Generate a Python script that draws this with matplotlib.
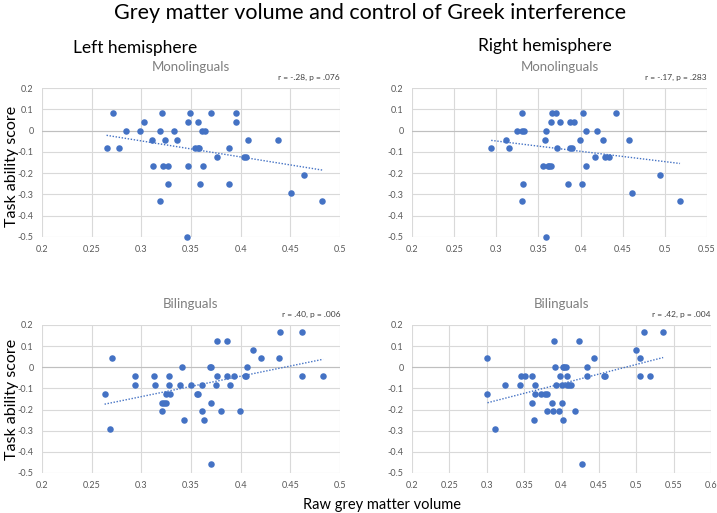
import matplotlib.pyplot as plt
import numpy as np

plt.rcParams['font.family'] = ['Lato', 'DejaVu Sans']

# Left hemisphere, monolinguals
lm_x = [0.265, 0.271, 0.278, 0.285, 0.299, 0.303, 0.311, 0.312, 0.319, 0.319,
        0.321, 0.322, 0.324, 0.327, 0.327, 0.333, 0.336, 0.346, 0.347, 0.347,
        0.349, 0.354, 0.357, 0.357, 0.358, 0.359, 0.361, 0.362, 0.364, 0.370,
        0.376, 0.388, 0.388, 0.395, 0.395, 0.403, 0.405, 0.407, 0.438, 0.451,
        0.464, 0.482]
lm_y = [-0.083, 0.083, -0.083, 0, 0, 0.042, -0.042, -0.167, 0, -0.333,
        0.083, -0.167, -0.042, -0.25, -0.167, 0, -0.042, -0.5, 0.042, -0.167,
        0.083, -0.083, 0.042, -0.083, -0.083, -0.25, 0, -0.167, 0, 0.083,
        -0.125, -0.083, -0.25, 0.083, 0.042, -0.125, -0.125, -0.042, -0.042, -0.292,
        -0.208, -0.333]

# Right hemisphere, monolinguals
rm_x = [0.294, 0.312, 0.315, 0.324, 0.330, 0.331, 0.333, 0.332, 0.331, 0.358,
        0.356, 0.359, 0.359, 0.361, 0.363, 0.365, 0.365, 0.366, 0.371, 0.372,
        0.376, 0.385, 0.387, 0.388, 0.390, 0.392, 0.399, 0.402, 0.403, 0.406,
        0.406, 0.417, 0.420, 0.427, 0.429, 0.434, 0.442, 0.457, 0.461, 0.494,
        0.518]
rm_y = [-0.083, -0.042, -0.083, 0, 0.083, 0, 0, -0.25, -0.333, -0.042,
        -0.167, 0, -0.5, -0.167, -0.167, -0.167, 0.042, 0.083, 0.083, -0.083,
        0.042, -0.25, -0.083, 0.042, -0.083, 0.042, -0.042, -0.25, 0.083, -0.167,
        0, -0.125, 0, -0.042, -0.125, -0.125, 0.083, -0.042, -0.292, -0.208,
        -0.333]

# Left hemisphere, bilinguals
lb_x = [0.263, 0.270, 0.268, 0.294, 0.294, 0.313, 0.314, 0.321, 0.321, 0.323,
        0.325, 0.325, 0.328, 0.328, 0.329, 0.339, 0.341, 0.343, 0.350, 0.356,
        0.357, 0.361, 0.361, 0.363, 0.369, 0.370, 0.370, 0.370, 0.375, 0.376,
        0.376, 0.380, 0.386, 0.386, 0.389, 0.393, 0.399, 0.404, 0.405, 0.406,
        0.412, 0.420, 0.439, 0.440, 0.462, 0.462, 0.483]
lb_y = [-0.125, 0.042, -0.292, -0.042, -0.083, -0.042, -0.083, -0.167, -0.208, -0.167,
        -0.167, -0.125, -0.042, -0.083, -0.125, -0.083, 0, -0.25, -0.083, -0.125,
        -0.125, -0.083, -0.208, -0.25, 0, 0, -0.167, -0.458, -0.083, 0.125,
        -0.042, -0.208, 0.125, -0.042, -0.083, -0.042, -0.208, -0.042, -0.042, 0,
        0.083, 0.042, 0.042, 0.167, 0.167, -0.042, -0.042]

# Right hemisphere, bilinguals
rb_x = [0.301, 0.301, 0.311, 0.324, 0.344, 0.346, 0.351, 0.361, 0.361, 0.364,
        0.364, 0.363, 0.372, 0.378, 0.380, 0.380, 0.387, 0.389, 0.390, 0.391,
        0.392, 0.396, 0.398, 0.400, 0.401, 0.402, 0.402, 0.404, 0.406, 0.407,
        0.408, 0.410, 0.413, 0.418, 0.423, 0.427, 0.434, 0.434, 0.444, 0.457,
        0.458, 0.499, 0.505, 0.505, 0.510, 0.519, 0.536]
rb_y = [0.042, -0.125, -0.292, -0.083, -0.083, -0.042, -0.042, -0.042, -0.167, -0.083,
        -0.125, -0.25, -0.125, -0.125, -0.125, -0.208, -0.167, -0.208, 0.125, 0,
        -0.083, -0.208, -0.042, -0.167, -0.083, 0, -0.25, 0, 0, -0.083,
        -0.042, -0.083, -0.083, -0.208, 0.125, -0.458, 0, -0.042, 0.042, -0.042,
        -0.042, 0.083, 0.042, -0.042, 0.167, -0.042, 0.167]

titles = ['Monolinguals', 'Monolinguals', 'Bilinguals', 'Bilinguals']
stats = ['r = -.28, p = .076', 'r = -.17, p = .283', 'r = .40, p = .006', 'r = .42, p = .004']
xmaxes = [0.5, 0.55, 0.5, 0.6]

W, H = 717, 513
fig = plt.figure(figsize=(W / 100, H / 100), dpi=100)

def px(l, t, r, b):
    return [l / W, 1 - b / H, (r - l) / W, (b - t) / H]

boxes = [px(42, 88, 340, 237), px(412, 88, 707, 237),
         px(42, 325, 340, 473), px(412, 325, 711, 473)]
data = [(lm_x, lm_y), (rm_x, rm_y), (lb_x, lb_y), (rb_x, rb_y)]

blue = '#4472C4'
grid = '#d9d9d9'
tickc = '#595959'

for i in range(4):
    ax = fig.add_axes(boxes[i])
    x = np.array(data[i][0])
    y = np.array(data[i][1])
    ax.scatter(x, y, s=22, color=blue, zorder=3, linewidths=0, clip_on=False)
    # linear trendline, as Excel draws it over the data range
    k, c = np.polyfit(x, y, 1)
    xs = np.array([x.min(), x.max()])
    ax.plot(xs, k * xs + c, color=blue, lw=1.0, ls=(0, (1, 1.2)), zorder=2)
    ax.set_xlim(0.2, xmaxes[i])
    ax.set_ylim(-0.5, 0.2)
    ax.set_xticks(np.arange(0.2, xmaxes[i] + 0.001, 0.05))
    ax.set_yticks(np.arange(-0.5, 0.201, 0.1))
    ax.set_xticklabels([('%.2f' % v).rstrip('0').rstrip('.') for v in ax.get_xticks()])
    ax.set_yticklabels([('%.1f' % v).replace('-0.0', '0').replace('0.0', '0') for v in ax.get_yticks()])
    ax.grid(True, color=grid, lw=0.8)
    ax.set_axisbelow(True)
    for s in ax.spines.values():
        s.set_visible(False)
    ax.axhline(0, color='#bfbfbf', lw=0.8, zorder=1)
    ax.tick_params(length=0, labelsize=6.5, labelcolor=tickc, pad=6)
    ax.set_title(titles[i], fontsize=9.5, color='#7f7f7f', pad=12)
    ax.text(1.0, 1.07, stats[i], transform=ax.transAxes, ha='right', va='center',
            fontsize=6, color='#404040')

fig.text(370 / W, 1 - 13 / H, 'Grey matter volume and control of Greek interference',
         ha='center', va='center', fontsize=15.5)
fig.text(135 / W, 1 - 48 / H, 'Left hemisphere', ha='center', va='center', fontsize=12.5)
fig.text(545 / W, 1 - 46 / H, 'Right hemisphere', ha='center', va='center', fontsize=12.5)
fig.text(12 / W, 1 - 166 / H, 'Task ability score', rotation=90, ha='center', va='center', fontsize=11.5)
fig.text(12 / W, 1 - 399 / H, 'Task ability score', rotation=90, ha='center', va='center', fontsize=11.5)
fig.text(382 / W, 1 - 505 / H, 'Raw grey matter volume', ha='center', va='center', fontsize=10.5)

plt.savefig('out.png', dpi=100)
